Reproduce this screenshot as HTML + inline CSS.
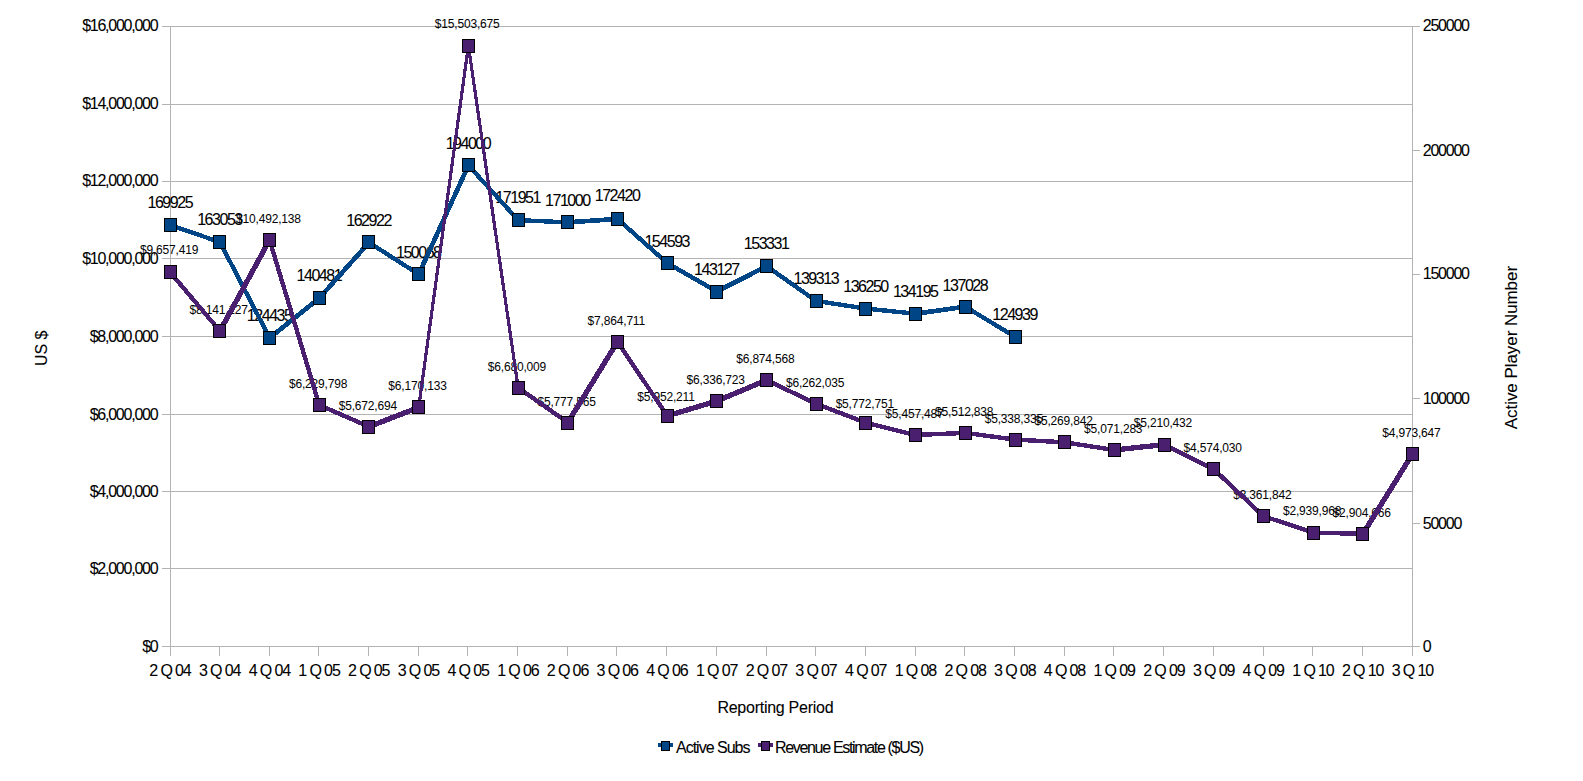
<!DOCTYPE html>
<html lang="en"><head><meta charset="utf-8"><title>Active Subs and Revenue Estimate</title>
<style>
html,body{margin:0;padding:0;background:#fff;}
body{width:1583px;height:781px;overflow:hidden;}
svg{display:block;}
text{font-family:"Liberation Sans",sans-serif;fill:#000;}
.t16{font-size:16px;stroke:#000;stroke-width:0.08px;}
.t12{font-size:12px;}
</style></head><body>
<svg width="1583" height="781" viewBox="0 0 1583 781">
<rect width="1583" height="781" fill="#fff"/>
<g shape-rendering="crispEdges" stroke="#b3b3b3" stroke-width="1" fill="none">
<line x1="162" y1="646.5" x2="1413" y2="646.5"/>
<line x1="162" y1="568.5" x2="1413" y2="568.5"/>
<line x1="162" y1="491.5" x2="1413" y2="491.5"/>
<line x1="162" y1="414.5" x2="1413" y2="414.5"/>
<line x1="162" y1="336.5" x2="1413" y2="336.5"/>
<line x1="162" y1="258.5" x2="1413" y2="258.5"/>
<line x1="162" y1="181.5" x2="1413" y2="181.5"/>
<line x1="162" y1="104.5" x2="1413" y2="104.5"/>
<line x1="162" y1="26.5" x2="1413" y2="26.5"/>
<line x1="1412" y1="646.5" x2="1420" y2="646.5"/>
<line x1="1412" y1="523.5" x2="1420" y2="523.5"/>
<line x1="1412" y1="398.5" x2="1420" y2="398.5"/>
<line x1="1412" y1="274.5" x2="1420" y2="274.5"/>
<line x1="1412" y1="150.5" x2="1420" y2="150.5"/>
<line x1="1412" y1="26.5" x2="1420" y2="26.5"/>
<line x1="170.5" y1="26" x2="170.5" y2="647"/>
<line x1="1412.5" y1="26" x2="1412.5" y2="647"/>
<line x1="170.5" y1="646" x2="170.5" y2="656"/>
<line x1="219.5" y1="646" x2="219.5" y2="656"/>
<line x1="269.5" y1="646" x2="269.5" y2="656"/>
<line x1="318.5" y1="646" x2="318.5" y2="656"/>
<line x1="368.5" y1="646" x2="368.5" y2="656"/>
<line x1="418.5" y1="646" x2="418.5" y2="656"/>
<line x1="467.5" y1="646" x2="467.5" y2="656"/>
<line x1="517.5" y1="646" x2="517.5" y2="656"/>
<line x1="567.5" y1="646" x2="567.5" y2="656"/>
<line x1="616.5" y1="646" x2="616.5" y2="656"/>
<line x1="666.5" y1="646" x2="666.5" y2="656"/>
<line x1="716.5" y1="646" x2="716.5" y2="656"/>
<line x1="766.5" y1="646" x2="766.5" y2="656"/>
<line x1="815.5" y1="646" x2="815.5" y2="656"/>
<line x1="865.5" y1="646" x2="865.5" y2="656"/>
<line x1="915.5" y1="646" x2="915.5" y2="656"/>
<line x1="964.5" y1="646" x2="964.5" y2="656"/>
<line x1="1014.5" y1="646" x2="1014.5" y2="656"/>
<line x1="1064.5" y1="646" x2="1064.5" y2="656"/>
<line x1="1113.5" y1="646" x2="1113.5" y2="656"/>
<line x1="1163.5" y1="646" x2="1163.5" y2="656"/>
<line x1="1213.5" y1="646" x2="1213.5" y2="656"/>
<line x1="1263.5" y1="646" x2="1263.5" y2="656"/>
<line x1="1312.5" y1="646" x2="1312.5" y2="656"/>
<line x1="1362.5" y1="646" x2="1362.5" y2="656"/>
<line x1="1412.5" y1="646" x2="1412.5" y2="656"/>
</g>
<text class="t16" text-anchor="end" transform="translate(157.22,652.00)" style="letter-spacing:-1.379px">$0</text>
<text class="t16" text-anchor="end" transform="translate(157.36,574.00)" style="letter-spacing:-1.241px">$2,000,000</text>
<text class="t16" text-anchor="end" transform="translate(157.36,497.00)" style="letter-spacing:-1.241px">$4,000,000</text>
<text class="t16" text-anchor="end" transform="translate(157.36,420.00)" style="letter-spacing:-1.241px">$6,000,000</text>
<text class="t16" text-anchor="end" transform="translate(157.36,342.00)" style="letter-spacing:-1.241px">$8,000,000</text>
<text class="t16" text-anchor="end" transform="translate(157.35,264.00)" style="letter-spacing:-1.254px">$10,000,000</text>
<text class="t16" text-anchor="end" transform="translate(157.35,186.00)" style="letter-spacing:-1.254px">$12,000,000</text>
<text class="t16" text-anchor="end" transform="translate(157.35,109.00)" style="letter-spacing:-1.254px">$14,000,000</text>
<text class="t16" text-anchor="end" transform="translate(157.35,31.00)" style="letter-spacing:-1.254px">$16,000,000</text>
<text class="t16" text-anchor="start" transform="translate(1422.80,652.00)" style="letter-spacing:-1.246px">0</text>
<text class="t16" text-anchor="start" transform="translate(1422.80,529.00)" style="letter-spacing:-1.246px">50000</text>
<text class="t16" text-anchor="start" transform="translate(1422.80,404.00)" style="letter-spacing:-1.246px">100000</text>
<text class="t16" text-anchor="start" transform="translate(1422.80,279.00)" style="letter-spacing:-1.246px">150000</text>
<text class="t16" text-anchor="start" transform="translate(1422.80,156.00)" style="letter-spacing:-1.246px">200000</text>
<text class="t16" text-anchor="start" transform="translate(1422.80,31.00)" style="letter-spacing:-1.246px">250000</text>
<text class="t16" text-anchor="middle" transform="translate(169.94,676.00)" style="letter-spacing:-1.121px">2 Q 04</text>
<text class="t16" text-anchor="middle" transform="translate(219.64,676.00)" style="letter-spacing:-1.121px">3 Q 04</text>
<text class="t16" text-anchor="middle" transform="translate(269.33,676.00)" style="letter-spacing:-1.121px">4 Q 04</text>
<text class="t16" text-anchor="middle" transform="translate(319.03,676.00)" style="letter-spacing:-1.121px">1 Q 05</text>
<text class="t16" text-anchor="middle" transform="translate(368.72,676.00)" style="letter-spacing:-1.121px">2 Q 05</text>
<text class="t16" text-anchor="middle" transform="translate(418.42,676.00)" style="letter-spacing:-1.121px">3 Q 05</text>
<text class="t16" text-anchor="middle" transform="translate(468.12,676.00)" style="letter-spacing:-1.121px">4 Q 05</text>
<text class="t16" text-anchor="middle" transform="translate(517.81,676.00)" style="letter-spacing:-1.121px">1 Q 06</text>
<text class="t16" text-anchor="middle" transform="translate(567.51,676.00)" style="letter-spacing:-1.121px">2 Q 06</text>
<text class="t16" text-anchor="middle" transform="translate(617.20,676.00)" style="letter-spacing:-1.121px">3 Q 06</text>
<text class="t16" text-anchor="middle" transform="translate(666.90,676.00)" style="letter-spacing:-1.121px">4 Q 06</text>
<text class="t16" text-anchor="middle" transform="translate(716.60,676.00)" style="letter-spacing:-1.121px">1 Q 07</text>
<text class="t16" text-anchor="middle" transform="translate(766.29,676.00)" style="letter-spacing:-1.121px">2 Q 07</text>
<text class="t16" text-anchor="middle" transform="translate(815.99,676.00)" style="letter-spacing:-1.121px">3 Q 07</text>
<text class="t16" text-anchor="middle" transform="translate(865.68,676.00)" style="letter-spacing:-1.121px">4 Q 07</text>
<text class="t16" text-anchor="middle" transform="translate(915.38,676.00)" style="letter-spacing:-1.121px">1 Q 08</text>
<text class="t16" text-anchor="middle" transform="translate(965.08,676.00)" style="letter-spacing:-1.121px">2 Q 08</text>
<text class="t16" text-anchor="middle" transform="translate(1014.77,676.00)" style="letter-spacing:-1.121px">3 Q 08</text>
<text class="t16" text-anchor="middle" transform="translate(1064.47,676.00)" style="letter-spacing:-1.121px">4 Q 08</text>
<text class="t16" text-anchor="middle" transform="translate(1114.16,676.00)" style="letter-spacing:-1.121px">1 Q 09</text>
<text class="t16" text-anchor="middle" transform="translate(1163.86,676.00)" style="letter-spacing:-1.121px">2 Q 09</text>
<text class="t16" text-anchor="middle" transform="translate(1213.56,676.00)" style="letter-spacing:-1.121px">3 Q 09</text>
<text class="t16" text-anchor="middle" transform="translate(1263.25,676.00)" style="letter-spacing:-1.121px">4 Q 09</text>
<text class="t16" text-anchor="middle" transform="translate(1312.95,676.00)" style="letter-spacing:-1.121px">1 Q 10</text>
<text class="t16" text-anchor="middle" transform="translate(1362.64,676.00)" style="letter-spacing:-1.121px">2 Q 10</text>
<text class="t16" text-anchor="middle" transform="translate(1412.34,676.00)" style="letter-spacing:-1.121px">3 Q 10</text>
<text class="t16" text-anchor="middle" transform="translate(47.00,348.30) rotate(-90)">US $</text>
<text class="t16" text-anchor="middle" transform="translate(1516.50,347.60) rotate(-90) scale(1.0560,1)">Active Player Number</text>
<text class="t16" text-anchor="middle" transform="translate(775.37,713.00)" style="letter-spacing:-0.263px">Reporting Period</text>
<text class="t16" text-anchor="middle" transform="translate(169.77,208.00)" style="letter-spacing:-1.468px">169925</text>
<text class="t16" text-anchor="middle" transform="translate(219.46,225.00)" style="letter-spacing:-1.468px">163053</text>
<text class="t16" text-anchor="middle" transform="translate(269.16,321.00)" style="letter-spacing:-1.468px">124435</text>
<text class="t16" text-anchor="middle" transform="translate(318.85,281.00)" style="letter-spacing:-1.468px">140481</text>
<text class="t16" text-anchor="middle" transform="translate(368.55,226.00)" style="letter-spacing:-1.468px">162922</text>
<text class="t16" text-anchor="middle" transform="translate(418.25,258.00)" style="letter-spacing:-1.468px">150068</text>
<text class="t16" text-anchor="middle" transform="translate(467.94,149.00)" style="letter-spacing:-1.468px">194000</text>
<text class="t16" text-anchor="middle" transform="translate(517.64,203.00)" style="letter-spacing:-1.468px">171951</text>
<text class="t16" text-anchor="middle" transform="translate(567.33,206.00)" style="letter-spacing:-1.468px">171000</text>
<text class="t16" text-anchor="middle" transform="translate(617.03,201.00)" style="letter-spacing:-1.468px">172420</text>
<text class="t16" text-anchor="middle" transform="translate(666.73,247.00)" style="letter-spacing:-1.468px">154593</text>
<text class="t16" text-anchor="middle" transform="translate(716.42,275.00)" style="letter-spacing:-1.468px">143127</text>
<text class="t16" text-anchor="middle" transform="translate(766.12,249.00)" style="letter-spacing:-1.468px">153331</text>
<text class="t16" text-anchor="middle" transform="translate(815.81,284.00)" style="letter-spacing:-1.468px">139313</text>
<text class="t16" text-anchor="middle" transform="translate(865.51,292.00)" style="letter-spacing:-1.468px">136250</text>
<text class="t16" text-anchor="middle" transform="translate(915.21,297.00)" style="letter-spacing:-1.468px">134195</text>
<text class="t16" text-anchor="middle" transform="translate(964.90,291.00)" style="letter-spacing:-1.468px">137028</text>
<text class="t16" text-anchor="middle" transform="translate(1014.60,320.00)" style="letter-spacing:-1.468px">124939</text>
<text class="t12" text-anchor="middle" transform="translate(169.01,254.00)" style="letter-spacing:-0.180px">$9,657,419</text>
<text class="t12" text-anchor="middle" transform="translate(218.71,314.00)" style="letter-spacing:-0.180px">$8,141,127</text>
<text class="t12" text-anchor="middle" transform="translate(268.40,223.00)" style="letter-spacing:-0.182px">$10,492,138</text>
<text class="t12" text-anchor="middle" transform="translate(318.10,388.00)" style="letter-spacing:-0.180px">$6,229,798</text>
<text class="t12" text-anchor="middle" transform="translate(367.79,410.00)" style="letter-spacing:-0.180px">$5,672,694</text>
<text class="t12" text-anchor="middle" transform="translate(417.49,390.00)" style="letter-spacing:-0.180px">$6,170,133</text>
<text class="t12" text-anchor="middle" transform="translate(467.19,28.00)" style="letter-spacing:-0.182px">$15,503,675</text>
<text class="t12" text-anchor="middle" transform="translate(516.88,371.00)" style="letter-spacing:-0.180px">$6,680,009</text>
<text class="t12" text-anchor="middle" transform="translate(566.58,406.00)" style="letter-spacing:-0.180px">$5,777,565</text>
<text class="t12" text-anchor="middle" transform="translate(616.28,325.00)" style="letter-spacing:-0.177px">$7,864,711</text>
<text class="t12" text-anchor="middle" transform="translate(665.97,401.00)" style="letter-spacing:-0.177px">$5,952,211</text>
<text class="t12" text-anchor="middle" transform="translate(715.67,384.00)" style="letter-spacing:-0.180px">$6,336,723</text>
<text class="t12" text-anchor="middle" transform="translate(765.36,363.00)" style="letter-spacing:-0.180px">$6,874,568</text>
<text class="t12" text-anchor="middle" transform="translate(815.06,387.00)" style="letter-spacing:-0.180px">$6,262,035</text>
<text class="t12" text-anchor="middle" transform="translate(864.75,408.00)" style="letter-spacing:-0.180px">$5,772,751</text>
<text class="t12" text-anchor="middle" transform="translate(914.45,418.00)" style="letter-spacing:-0.180px">$5,457,487</text>
<text class="t12" text-anchor="middle" transform="translate(964.15,416.00)" style="letter-spacing:-0.180px">$5,512,838</text>
<text class="t12" text-anchor="middle" transform="translate(1013.84,423.00)" style="letter-spacing:-0.180px">$5,338,335</text>
<text class="t12" text-anchor="middle" transform="translate(1063.54,425.00)" style="letter-spacing:-0.180px">$5,269,842</text>
<text class="t12" text-anchor="middle" transform="translate(1113.23,433.00)" style="letter-spacing:-0.180px">$5,071,283</text>
<text class="t12" text-anchor="middle" transform="translate(1162.93,427.00)" style="letter-spacing:-0.180px">$5,210,432</text>
<text class="t12" text-anchor="middle" transform="translate(1212.63,452.00)" style="letter-spacing:-0.180px">$4,574,030</text>
<text class="t12" text-anchor="middle" transform="translate(1262.32,499.00)" style="letter-spacing:-0.180px">$3,361,842</text>
<text class="t12" text-anchor="middle" transform="translate(1312.02,515.00)" style="letter-spacing:-0.180px">$2,939,968</text>
<text class="t12" text-anchor="middle" transform="translate(1361.71,517.00)" style="letter-spacing:-0.180px">$2,904,666</text>
<text class="t12" text-anchor="middle" transform="translate(1411.41,437.00)" style="letter-spacing:-0.180px">$4,973,647</text>
<g shape-rendering="crispEdges" stroke="#004586" fill="none">
<line x1="170.2" y1="225.1" x2="219.9" y2="242.1" stroke-width="4.4"/>
<line x1="219.9" y1="242.1" x2="269.6" y2="337.9" stroke-width="4.4"/>
<line x1="269.6" y1="337.9" x2="319.3" y2="298.1" stroke-width="4.7"/>
<line x1="319.3" y1="298.1" x2="369.0" y2="242.5" stroke-width="4.7"/>
<line x1="369.0" y1="242.5" x2="418.7" y2="274.3" stroke-width="4.4"/>
<line x1="418.7" y1="274.3" x2="468.4" y2="165.4" stroke-width="4.7"/>
<line x1="468.4" y1="165.4" x2="518.1" y2="220.1" stroke-width="4.4"/>
<line x1="518.1" y1="220.1" x2="567.8" y2="222.4" stroke-width="4.4"/>
<line x1="567.8" y1="222.4" x2="617.5" y2="218.9" stroke-width="4.7"/>
<line x1="617.5" y1="218.9" x2="667.2" y2="263.1" stroke-width="4.4"/>
<line x1="667.2" y1="263.1" x2="716.9" y2="291.5" stroke-width="4.4"/>
<line x1="716.9" y1="291.5" x2="766.6" y2="266.2" stroke-width="4.7"/>
<line x1="766.6" y1="266.2" x2="816.2" y2="301.0" stroke-width="4.4"/>
<line x1="816.2" y1="301.0" x2="865.9" y2="308.6" stroke-width="4.4"/>
<line x1="865.9" y1="308.6" x2="915.6" y2="313.7" stroke-width="4.4"/>
<line x1="915.6" y1="313.7" x2="965.3" y2="306.7" stroke-width="4.7"/>
<line x1="965.3" y1="306.7" x2="1015.0" y2="336.7" stroke-width="4.4"/>
</g>
<g shape-rendering="crispEdges" fill="#004586" stroke="#000" stroke-width="1">
<rect x="164.5" y="218.5" width="12" height="13"/>
<rect x="213.5" y="235.5" width="12" height="13"/>
<rect x="263.5" y="331.5" width="12" height="13"/>
<rect x="313.5" y="291.5" width="12" height="13"/>
<rect x="362.5" y="235.5" width="12" height="13"/>
<rect x="412.5" y="267.5" width="12" height="13"/>
<rect x="462.5" y="158.5" width="12" height="13"/>
<rect x="512.5" y="213.5" width="12" height="13"/>
<rect x="561.5" y="215.5" width="12" height="13"/>
<rect x="611.5" y="212.5" width="12" height="13"/>
<rect x="661.5" y="256.5" width="12" height="13"/>
<rect x="710.5" y="285.5" width="12" height="13"/>
<rect x="760.5" y="259.5" width="12" height="13"/>
<rect x="810.5" y="294.5" width="12" height="13"/>
<rect x="859.5" y="302.5" width="12" height="13"/>
<rect x="909.5" y="307.5" width="12" height="13"/>
<rect x="959.5" y="300.5" width="12" height="13"/>
<rect x="1009.5" y="330.5" width="12" height="13"/>
</g>
<g shape-rendering="crispEdges" stroke="#4b1f6f" fill="none">
<line x1="170.2" y1="272.3" x2="219.9" y2="331.0" stroke-width="4.4"/>
<line x1="219.9" y1="331.0" x2="269.6" y2="239.9" stroke-width="5.3"/>
<line x1="269.6" y1="239.9" x2="319.3" y2="405.1" stroke-width="4.4"/>
<line x1="319.3" y1="405.1" x2="369.0" y2="426.7" stroke-width="4.4"/>
<line x1="369.0" y1="426.7" x2="418.7" y2="407.4" stroke-width="5.3"/>
<line x1="418.7" y1="407.4" x2="468.4" y2="45.7" stroke-width="3.2"/>
<line x1="468.4" y1="45.7" x2="518.1" y2="387.6" stroke-width="3.2"/>
<line x1="518.1" y1="387.6" x2="567.8" y2="422.6" stroke-width="4.4"/>
<line x1="567.8" y1="422.6" x2="617.5" y2="341.7" stroke-width="5.3"/>
<line x1="617.5" y1="341.7" x2="667.2" y2="415.9" stroke-width="4.4"/>
<line x1="667.2" y1="415.9" x2="716.9" y2="401.0" stroke-width="5.3"/>
<line x1="716.9" y1="401.0" x2="766.6" y2="380.1" stroke-width="5.3"/>
<line x1="766.6" y1="380.1" x2="816.2" y2="403.8" stroke-width="4.4"/>
<line x1="816.2" y1="403.8" x2="865.9" y2="422.8" stroke-width="4.4"/>
<line x1="865.9" y1="422.8" x2="915.6" y2="435.0" stroke-width="4.4"/>
<line x1="915.6" y1="435.0" x2="965.3" y2="432.9" stroke-width="4.4"/>
<line x1="965.3" y1="432.9" x2="1015.0" y2="439.6" stroke-width="4.4"/>
<line x1="1015.0" y1="439.6" x2="1064.7" y2="442.3" stroke-width="4.4"/>
<line x1="1064.7" y1="442.3" x2="1114.4" y2="450.0" stroke-width="4.4"/>
<line x1="1114.4" y1="450.0" x2="1164.1" y2="444.6" stroke-width="5.3"/>
<line x1="1164.1" y1="444.6" x2="1213.8" y2="469.3" stroke-width="4.4"/>
<line x1="1213.8" y1="469.3" x2="1263.5" y2="516.2" stroke-width="4.4"/>
<line x1="1263.5" y1="516.2" x2="1313.2" y2="532.6" stroke-width="4.4"/>
<line x1="1313.2" y1="532.6" x2="1362.9" y2="533.9" stroke-width="4.4"/>
<line x1="1362.9" y1="533.9" x2="1412.6" y2="453.8" stroke-width="5.3"/>
</g>
<g shape-rendering="crispEdges" fill="#4b1f6f" stroke="#000" stroke-width="1">
<rect x="164.5" y="265.5" width="12" height="13"/>
<rect x="213.5" y="324.5" width="12" height="13"/>
<rect x="263.5" y="233.5" width="12" height="13"/>
<rect x="313.5" y="398.5" width="12" height="13"/>
<rect x="362.5" y="420.5" width="12" height="13"/>
<rect x="412.5" y="400.5" width="12" height="13"/>
<rect x="462.5" y="39.5" width="12" height="13"/>
<rect x="512.5" y="381.5" width="12" height="13"/>
<rect x="561.5" y="416.5" width="12" height="13"/>
<rect x="611.5" y="335.5" width="12" height="13"/>
<rect x="661.5" y="409.5" width="12" height="13"/>
<rect x="710.5" y="394.5" width="12" height="13"/>
<rect x="760.5" y="373.5" width="12" height="13"/>
<rect x="810.5" y="397.5" width="12" height="13"/>
<rect x="859.5" y="416.5" width="12" height="13"/>
<rect x="909.5" y="428.5" width="12" height="13"/>
<rect x="959.5" y="426.5" width="12" height="13"/>
<rect x="1009.5" y="433.5" width="12" height="13"/>
<rect x="1058.5" y="435.5" width="12" height="13"/>
<rect x="1108.5" y="443.5" width="12" height="13"/>
<rect x="1158.5" y="438.5" width="12" height="13"/>
<rect x="1207.5" y="462.5" width="12" height="13"/>
<rect x="1257.5" y="509.5" width="12" height="13"/>
<rect x="1307.5" y="526.5" width="12" height="13"/>
<rect x="1356.5" y="527.5" width="12" height="13"/>
<rect x="1406.5" y="447.5" width="12" height="13"/>
</g>
<g shape-rendering="crispEdges">
<rect x="658" y="743" width="15" height="4" fill="#004586"/>
<rect x="661.5" y="741.5" width="8" height="9" fill="#004586" stroke="#000" stroke-width="1"/>
</g>
<text class="t16" text-anchor="start" transform="translate(676.00,753.00)" style="letter-spacing:-0.998px">Active Subs</text>
<g shape-rendering="crispEdges">
<rect x="758" y="743" width="15" height="4" fill="#4b1f6f"/>
<rect x="761.5" y="741.5" width="8" height="9" fill="#4b1f6f" stroke="#000" stroke-width="1"/>
</g>
<text class="t16" text-anchor="start" transform="translate(775.00,753.00)" style="letter-spacing:-1.327px">Revenue Estimate ($US)</text>
</svg>
</body></html>
